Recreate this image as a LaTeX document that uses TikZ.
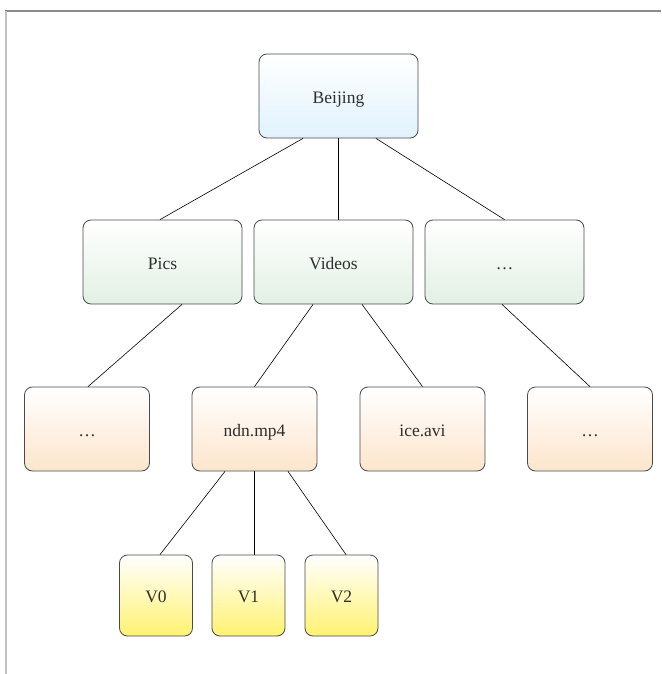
\documentclass[tikz,border=0pt]{standalone}
\usepackage{fontspec}
\setmainfont{Liberation Serif}
\definecolor{txt}{HTML}{2E2E2E}
\definecolor{edge}{HTML}{4A4A4A}
\definecolor{cblue}{HTML}{E0F2FC}
\definecolor{cgreen}{HTML}{E2F0E4}
\definecolor{cpeach}{HTML}{FDE5CC}
\definecolor{cyellow}{HTML}{FFF270}
\tikzset{
  box/.style={draw=edge, line width=0.8pt, rounded corners=8pt, minimum width=#1, minimum height=84pt, inner sep=0pt, text height=14.5pt, text depth=0pt, text=txt, font=\fontsize{17.5}{20}\selectfont, top color=white},
  box/.default=159pt,
  bluebox/.style={box, bottom color=cblue},
  greenbox/.style={box, bottom color=cgreen},
  peachbox/.style={box=125pt, bottom color=cpeach},
  yellowbox/.style={box=73pt, minimum height=81pt, bottom color=cyellow},
  link/.style={draw=black, line width=0.6pt},
}
\begin{document}
\begin{tikzpicture}[x=1pt,y=-1pt]
\useasboundingbox (0,0) rectangle (661,674);
\fill[white] (0,0) rectangle (661,674);
\draw[color=black!45, line width=1.2pt] (5,11) -- (661,11);
\draw[color=black!25, line width=2pt] (6,11) -- (6,674);

\node[bluebox] (bj) at (338.5,96) {Beijing};
\node[greenbox] (pics) at (162.5,262) {Pics};
\node[greenbox] (vid) at (333.5,262) {Videos};
\node[greenbox] (dots2) at (504.5,262) {\dots};
\node[peachbox] (dl) at (87,429) {\dots};
\node[peachbox] (ndn) at (254.5,429) {ndn.mp4};
\node[peachbox] (ice) at (422.5,429) {ice.avi};
\node[peachbox] (dr) at (590,429) {\dots};
\node[yellowbox] (v0) at (156,595.5) {V0};
\node[yellowbox] (v1) at (248.5,595.5) {V1};
\node[yellowbox] (v2) at (341.5,595.5) {V2};

\draw[link] ([xshift=-35.5pt]bj.south) -- ([xshift=-2.5pt]pics.north);
\draw[link] ([xshift=0pt]bj.south) -- ([xshift=5pt]vid.north);
\draw[link] ([xshift=37.5pt]bj.south) -- (dots2.north);
\draw[link] ([xshift=19.5pt]pics.south) -- ([xshift=1pt]dl.north);
\draw[link] ([xshift=-20.5pt]vid.south) -- (ndn.north);
\draw[link] ([xshift=28.5pt]vid.south) -- (ice.north);
\draw[link] ([xshift=-2.5pt]dots2.south) -- (dr.north);
\draw[link] ([xshift=-29.5pt]ndn.south) -- ([xshift=4pt]v0.north);
\draw[link] ([xshift=0pt]ndn.south) -- ([xshift=6pt]v1.north);
\draw[link] ([xshift=33.5pt]ndn.south) -- ([xshift=4.5pt]v2.north);
\end{tikzpicture}
\end{document}
